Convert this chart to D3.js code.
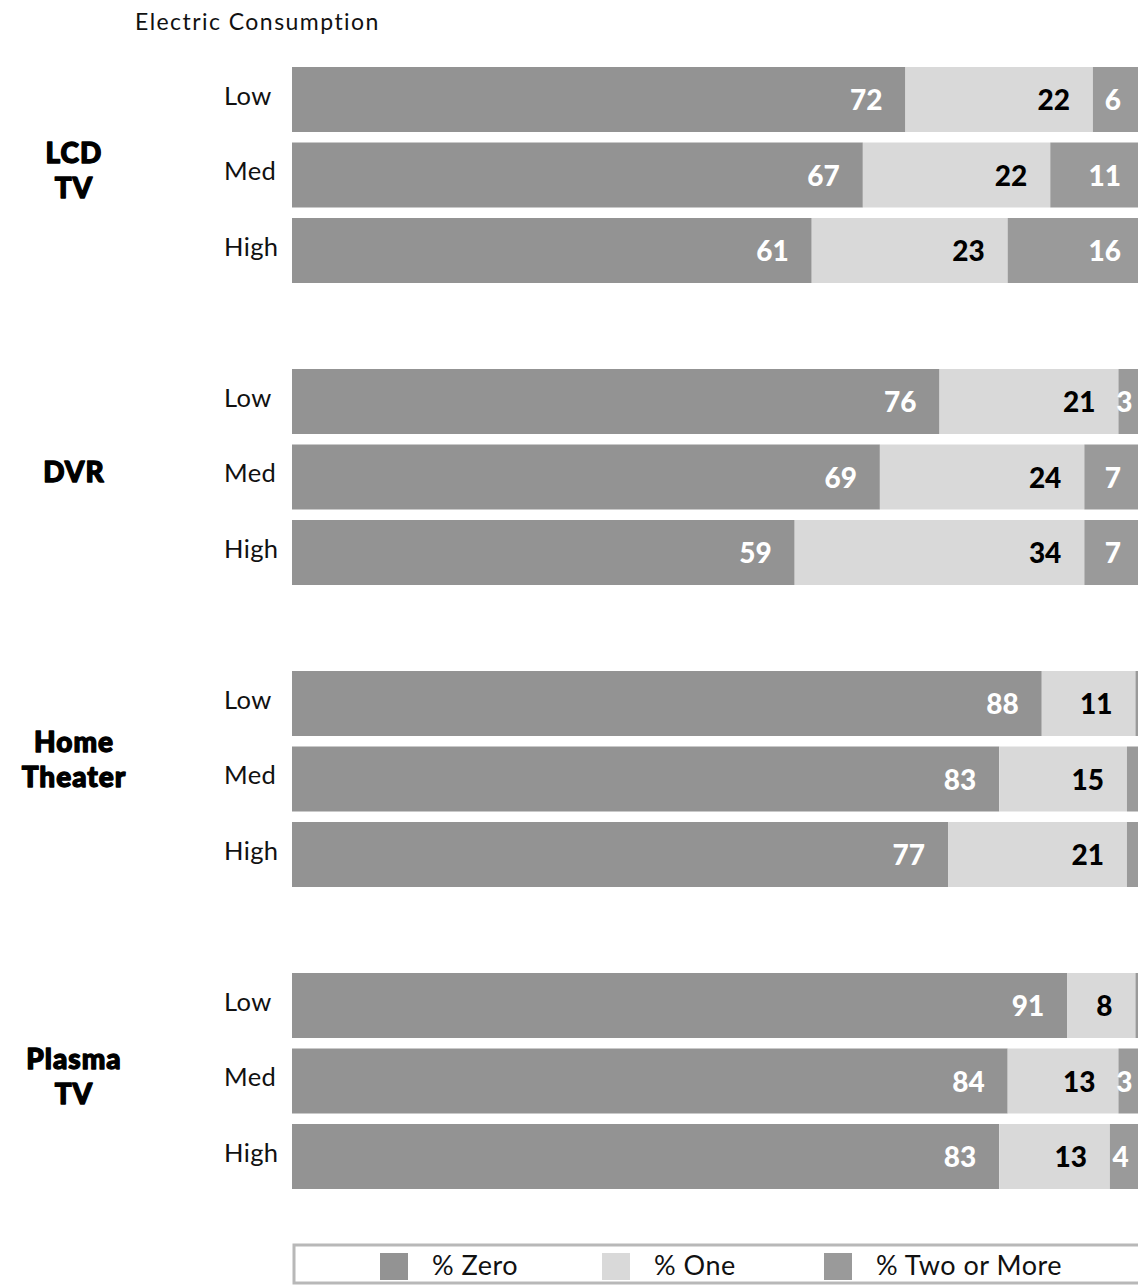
<!DOCTYPE html>
<html>
<head>
<meta charset="utf-8">
<script src="https://cdn.jsdelivr.net/npm/d3@7"></script>
<style>
  html, body { margin: 0; padding: 0; background: #fff; }
  svg { display: block; }
  text { font-family: Lato, "Open Sans", sans-serif; }
</style>
</head>
<body>
<script>
// ---------- data ----------
const title = "Electric Consumption";
const groups = ["LCD TV", "DVR", "Home Theater", "Plasma TV"];
const groupLines = [["LCD", "TV"], ["DVR"], ["Home", "Theater"], ["Plasma", "TV"]];
const levels = ["Low", "Med", "High"];
const seriesNames = ["% Zero", "% One", "% Two or More"];
const zeroValues = [[72, 67, 61], [76, 69, 59], [88, 83, 77], [91, 84, 83]];
const oneValues  = [[22, 22, 23], [21, 24, 34], [11, 15, 21], [8, 13, 13]];
const twoValues  = [[6, 11, 16], [3, 7, 7], [1, 2, 2], [1, 3, 4]];

// ---------- layout ----------
const W = 1138, H = 1285;
const svg = d3.select("body").append("svg").attr("width", W).attr("height", H);

const colors = d3.scaleOrdinal().domain(seriesNames).range(["#939393", "#d9d9d9", "#9a9a9a"]);
const labelColors = d3.scaleOrdinal().domain(seriesNames).range(["#ffffff", "#000000", "#ffffff"]);

const x = d3.scaleLinear().domain([0, 100]).range([292, 1144]);
const yGroup = d3.scaleBand().domain(groups).range([67, 67 + 302 * 4]).padding(0);
const rowStep = 75.5, rowPad = 10.5 / 75.5;
const yLevel = d3.scaleBand().domain(levels)
  .range([0, rowStep * (levels.length - rowPad)])
  .paddingInner(rowPad).paddingOuter(0);
const bh = yLevel.bandwidth();
const groupLabelShift = { "LCD TV": 0, "DVR": 0, "Home Theater": -15, "Plasma TV": 0 };

// rows
const rows = [];
groups.forEach((g, gi) => {
  levels.forEach((l, li) => {
    const vals = [zeroValues[gi][li], oneValues[gi][li], twoValues[gi][li]];
    let cum = 0;
    const segs = vals.map((v, si) => {
      const s = { series: seriesNames[si], x0: cum, x1: cum + v, v };
      cum += v;
      return s;
    });
    rows.push({ g, l, y: yGroup(g) + yLevel(l), segs });
  });
});

// title
svg.append("text")
  .attr("x", 135).attr("y", 30)
  .attr("font-size", 23).attr("letter-spacing", 1.45).attr("fill", "#111")
  .text(title);

const rowG = svg.selectAll("g.row").data(rows).join("g")
  .attr("class", "row")
  .attr("transform", d => `translate(0,${d.y})`);

rowG.append("text")
  .attr("x", 224).attr("y", bh / 2 + 5)
  .attr("font-size", 25.5).attr("letter-spacing", 0.4).attr("fill", "#111")
  .text(d => d.l);

rowG.selectAll("rect").data(d => d.segs).join("rect")
  .attr("x", s => x(s.x0))
  .attr("width", s => x(s.x1) - x(s.x0))
  .attr("y", 0).attr("height", bh)
  .attr("fill", s => colors(s.series));

rowG.selectAll("text.val").data(d => d.segs.filter(s => s.v >= 3)).join("text")
  .attr("class", "val")
  .attr("x", s => x(s.x1) - Math.min(23, (x(s.x1) - x(s.x0)) * 0.45))
  .attr("y", bh / 2 + 10.5)
  .attr("text-anchor", "end")
  .attr("font-size", 28).attr("font-weight", 900)
  .attr("fill", s => labelColors(s.series))
  .text(s => s.v);

// group labels
const gl = svg.selectAll("text.grp").data(groups).join("text")
  .attr("class", "grp")
  .attr("text-anchor", "middle")
  .attr("font-size", 28).attr("font-weight", 900).attr("letter-spacing", 1)
  .attr("fill", "#000").attr("stroke", "#000").attr("stroke-width", 1.3)
  .attr("stroke-linejoin", "round");
gl.each(function (g, i) {
  const lines = groupLines[i];
  const cy = yGroup(g) + (yLevel.range()[1]) / 2 - 5 + groupLabelShift[g];
  const lh = 35;
  const t = d3.select(this);
  lines.forEach((ln, k) => {
    t.append("tspan")
      .attr("x", 74)
      .attr("y", cy + (k - (lines.length - 1) / 2) * lh + 10)
      .text(ln);
  });
});

// legend
const legend = svg.append("g");
legend.append("rect")
  .attr("x", 294).attr("y", 1245).attr("width", 900).attr("height", 38)
  .attr("fill", "#fff").attr("stroke", "#b8b8b8").attr("stroke-width", 3);
const lx = d3.scalePoint().domain(seriesNames).range([380, 824]);
const li = legend.selectAll("g.li").data(seriesNames).join("g")
  .attr("transform", d => `translate(${lx(d)},1253)`);
li.append("rect").attr("width", 28).attr("height", 27).attr("fill", d => colors(d));
li.append("text").attr("x", 52).attr("y", 22)
  .attr("font-size", 27).attr("letter-spacing", 0.5).attr("fill", "#111")
  .text(d => d);
</script>
</body>
</html>
